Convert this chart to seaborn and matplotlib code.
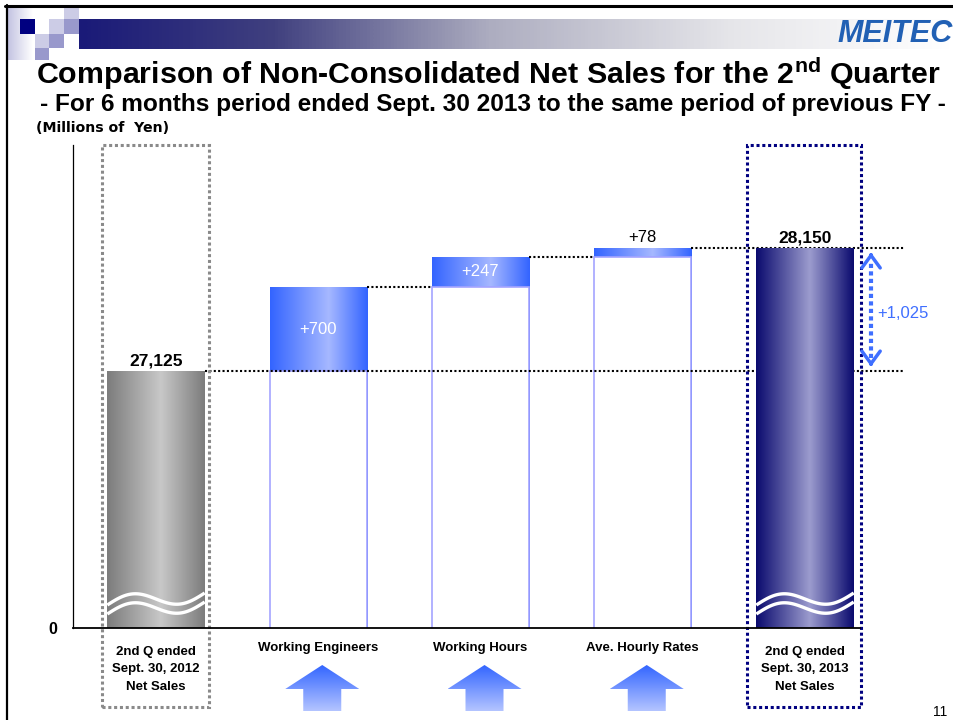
import numpy as np
import pandas as pd
import matplotlib
matplotlib.use("Agg")
import matplotlib.pyplot as plt
from matplotlib.colors import LinearSegmentedColormap
from matplotlib.patches import Rectangle, Polygon
from matplotlib import transforms
import seaborn as sns

# ---- data (millions of yen) ----
categories = [
    "2nd Q ended\nSept. 30, 2012\nNet Sales",
    "Working Engineers",
    "Working Hours",
    "Ave. Hourly Rates",
    "2nd Q ended\nSept. 30, 2013\nNet Sales",
]
prev_sales = 27125
factor_changes = [700, 247, 78]
curr_sales = 28150
axis_floor = 25000      # broken value axis: the floor is shown as "0"
axis_ceiling = 29000

# running totals of the bridge
steps = list(prev_sales + np.cumsum(factor_changes))
tops = [prev_sales] + steps + [curr_sales]
bases = [prev_sales] + steps[:-1]

# ---- style ----
sns.set_theme(style="white")
plt.rcParams["font.family"] = ["Liberation Sans", "DejaVu Sans"]
plt.rcParams["mathtext.fontset"] = "custom"
plt.rcParams["mathtext.rm"] = "Liberation Sans:bold"
plt.rcParams["mathtext.it"] = "Liberation Sans:bold"
plt.rcParams["mathtext.bf"] = "Liberation Sans:bold"
for key in ("text.color", "axes.labelcolor", "xtick.color", "ytick.color"):
    plt.rcParams[key] = "black"

W, H = 954, 720
fig = plt.figure(figsize=(W / 100, H / 100), dpi=100)
fig.patch.set_facecolor("white")

# slide decoration layer in pixel coordinates
deco = fig.add_axes([0, 0, 1, 1], zorder=0)
deco.set_xlim(0, W)
deco.set_ylim(H, 0)
deco.axis("off")

ax = fig.add_axes([73 / W, 1 - 628 / H, (860 - 73) / W, (628 - 145) / H], zorder=1)
ax.patch.set_alpha(0)

# ---- bars ----
df_tot = pd.DataFrame({"item": categories, "value": tops})
sns.barplot(data=df_tot, x="item", y="value", order=categories, width=0.6,
            color="white", saturation=1, linewidth=0, errorbar=None, ax=ax, zorder=2)
bar_patches = sorted(ax.patches, key=lambda p: p.get_x())

df_base = pd.DataFrame({"item": categories[1:4], "value": bases})
sns.barplot(data=df_base, x="item", y="value", order=categories, width=0.6,
            color="white", saturation=1, edgecolor="#A4A4FF", linewidth=1.2,
            errorbar=None, ax=ax, zorder=3)

gray_cmap = LinearSegmentedColormap.from_list("g", [(0, "#7C7C7C"), (0.55, "#C8C8C8"), (1, "#7C7C7C")])
blue_cmap = LinearSegmentedColormap.from_list("b", [(0, "#3364FF"), (0.6, "#A6B8FF"), (1, "#3364FF")])
navy_cmap = LinearSegmentedColormap.from_list("n", [(0, "#0A0A6E"), (0.55, "#9C9CCE"), (1, "#0A0A6E")])
bar_cmaps = [gray_cmap, blue_cmap, blue_cmap, blue_cmap, navy_cmap]


def gradient_fill(patch, cmap, zorder):
    x0, y0 = patch.get_x(), patch.get_y()
    w, h = patch.get_width(), patch.get_height()
    lo = max(y0, axis_floor)
    img = ax.imshow(np.linspace(0, 1, 256)[None, :], cmap=cmap, aspect="auto",
                    extent=(x0, x0 + w, lo, y0 + h), interpolation="bilinear",
                    zorder=zorder)
    img.set_clip_path(patch)
    patch.set_facecolor("none")


for i, (p, cm) in enumerate(zip(bar_patches, bar_cmaps)):
    gradient_fill(p, cm, 4.5 if i == 4 else 2)

ax.set_xlim(-0.5116, 4.339)
ax.set_ylim(axis_floor, axis_ceiling)
units_per_px = (axis_ceiling - axis_floor) / 483.0
half = 0.3

# dotted connectors between steps
dot = dict(color="black", lw=1.5, ls=(0, (1, 1.1)), zorder=3.5, clip_on=False)
x_far = 4.61
ax.plot([0 + half, x_far], [tops[0]] * 2, **dot)
for i in (1, 2):
    ax.plot([i + half, i + 1 - half], [tops[i]] * 2, **dot)
ax.plot([3 + half, x_far], [tops[3]] * 2, **dot)

# axis-break waves on the total bars
for c in (0, 4):
    t = np.linspace(0, 1, 80)
    xs = c - half + 2 * half * t
    lift = 23 + 12 * t + 8 * np.sin(2 * np.pi * t)
    for off in (0, -9):
        ax.plot(xs, axis_floor + (lift + off) * units_per_px, color="white",
                lw=2.4, zorder=5, solid_capstyle="butt")

# dotted frames around the two totals
trans = transforms.blended_transform_factory(ax.transData, ax.transAxes)
box_bottom = (628 - 707) / 483.0
ax.add_patch(Rectangle((-0.333, box_bottom), 0.66, 1 - box_bottom, transform=trans,
                       fill=False, ec="#8A8A8A", lw=2.2, ls=(0, (1, 0.9)),
                       clip_on=False, zorder=6))
ax.add_patch(Rectangle((3.642, box_bottom), 0.703, 1 - box_bottom, transform=trans,
                       fill=False, ec="#000080", lw=2.2, ls=(0, (1, 0.9)),
                       clip_on=False, zorder=6))

# value labels
ax.annotate(f"{prev_sales:,}", (0, prev_sales), xytext=(0, 4), textcoords="offset points",
            ha="center", va="baseline", fontsize=12.5, fontweight="bold", zorder=7)
ax.annotate(f"{curr_sales:,}", (4, curr_sales), xytext=(0, 4), textcoords="offset points",
            ha="center", va="baseline", fontsize=12.5, fontweight="bold", zorder=7)
for i, ch in enumerate(factor_changes, start=1):
    if ch >= 200:
        ax.text(i, bases[i - 1] + ch / 2, f"+{ch:,}", ha="center", va="center",
                fontsize=12, color="white", zorder=7)
    else:
        ax.annotate(f"+{ch:,}", (i, tops[i]), xytext=(0, 4), textcoords="offset points",
                    ha="center", va="baseline", fontsize=12, color="black", zorder=7)

# total change arrow
diff = curr_sales - prev_sales
ax_x = 4.407
arrow_blue = "#3F6FFF"
ax.plot([ax_x, ax_x], [prev_sales + 110, curr_sales - 110], color=arrow_blue, lw=3,
        ls=(0, (1, 0.8)), clip_on=False, zorder=6)
for tip, sgn in ((curr_sales - 40, -1), (prev_sales + 40, 1)):
    ax.annotate("", xy=(ax_x, tip), xytext=(ax_x, tip + sgn * 30),
                arrowprops=dict(arrowstyle="->,head_length=0.45,head_width=0.33",
                                lw=2.5, color=arrow_blue, mutation_scale=20,
                                shrinkA=0, shrinkB=0),
                annotation_clip=False, zorder=6)
ax.annotate(f"+{diff:,}", (ax_x, (prev_sales + curr_sales) / 2), xytext=(4.5, -3),
            textcoords="offset points", ha="left", va="center", fontsize=12,
            color=arrow_blue, annotation_clip=False)

# axes styling
for s in ("top", "right"):
    ax.spines[s].set_visible(False)
ax.spines["left"].set_color("black")
ax.spines["left"].set_linewidth(0.9)
ax.spines["bottom"].set_color("black")
ax.spines["bottom"].set_linewidth(1.3)
ax.spines["bottom"].set_zorder(8)
ax.set_xlabel("")
ax.set_ylabel("")
ax.set_yticks([axis_floor])
ax.set_yticklabels(["0"], fontsize=11.5, fontweight="bold")
ax.tick_params(axis="y", length=0, pad=11)
ax.set_xticks(range(len(categories)))
ax.set_xticklabels(categories, fontsize=9.5, fontweight="bold",
                   linespacing=1.62, va="top")
ax.tick_params(axis="x", length=0, pad=10)
# multi-line total labels sit a little lower inside their frames
for lbl in ax.get_xticklabels():
    if "\n" in lbl.get_text():
        lbl.set_transform(lbl.get_transform()
                          + transforms.ScaledTranslation(0, -0.04, fig.dpi_scale_trans))

# ---- slide decoration ----
band_cmap = LinearSegmentedColormap.from_list(
    "band", [(0, "#1A1A78"), (0.22, "#40407F"), (0.47, "#ADADC0"),
             (0.75, "#E6E6EA"), (1, "#FFFFFF")])
deco.imshow(np.linspace(0, 1, 256)[None, :], cmap=band_cmap, aspect="auto",
            extent=(79, 954, 49, 19), interpolation="bilinear", zorder=1)
strip_cmap = LinearSegmentedColormap.from_list("strip", ["#C4C4E2", "#FFFFFF"])
deco.imshow(np.linspace(0, 1, 64)[None, :], cmap=strip_cmap, aspect="auto",
            extent=(8, 33, 60, 7), interpolation="bilinear", zorder=1)
for (x, y, w, h), col in [
    ((20, 19, 15, 15), "#000080"),
    ((64, 7, 15, 12), "#CCCCE6"), ((49, 19, 15, 15), "#CCCCE6"), ((35, 34, 14, 14), "#CCCCE6"),
    ((64, 19, 15, 15), "#9999CC"), ((49, 34, 15, 14), "#9999CC"), ((35, 48, 14, 12), "#9999CC"),
]:
    deco.add_patch(Rectangle((x, y), w, h, facecolor=col, edgecolor="none", zorder=2))
deco.plot([5, 954], [5.5, 5.5], color="black", lw=2.2, zorder=3)
deco.plot([7, 7], [5, 720], color="black", lw=1.6, zorder=3)

deco.text(953, 34, "MEITEC", ha="right", va="center", fontsize=22, fontweight="heavy",
          fontstyle="italic", color="#2160B4", zorder=3)
deco.text(36, 84, r"Comparison of Non-Consolidated Net Sales for the 2$^{\mathrm{nd}}$ Quarter",
          ha="left", va="baseline", fontsize=21.9, fontweight="bold", zorder=3)
deco.text(40, 111, "- For 6 months period ended Sept. 30 2013 to the same period of previous FY -",
          ha="left", va="baseline", fontsize=17.55, fontweight="bold", zorder=3)
deco.text(36, 128, "(Millions of  Yen)", ha="left", va="center", fontsize=10.2,
          fontweight="bold", family=["DejaVu Sans"], zorder=3)
deco.text(947, 712, "11", ha="right", va="center", fontsize=10, zorder=3)

# upward arrows under the three factors
up_cmap = LinearSegmentedColormap.from_list("up", ["#3366FF", "#B4C4FF"])
for i in (1, 2, 3):
    cx = ax.transData.transform((i, axis_floor))[0] + 4
    poly = Polygon([(cx, 665), (cx + 37, 689), (cx + 19, 689), (cx + 19, 711),
                    (cx - 19, 711), (cx - 19, 689), (cx - 37, 689)], closed=True,
                   facecolor="none", edgecolor="none")
    deco.add_patch(poly)
    img = deco.imshow(np.linspace(0, 1, 128)[:, None], cmap=up_cmap, aspect="auto",
                      extent=(cx - 37, cx + 37, 711, 665), interpolation="bilinear", zorder=2)
    img.set_clip_path(poly)

deco.set_xlim(0, W)
deco.set_ylim(H, 0)

fig.savefig("out.png", dpi=100)
